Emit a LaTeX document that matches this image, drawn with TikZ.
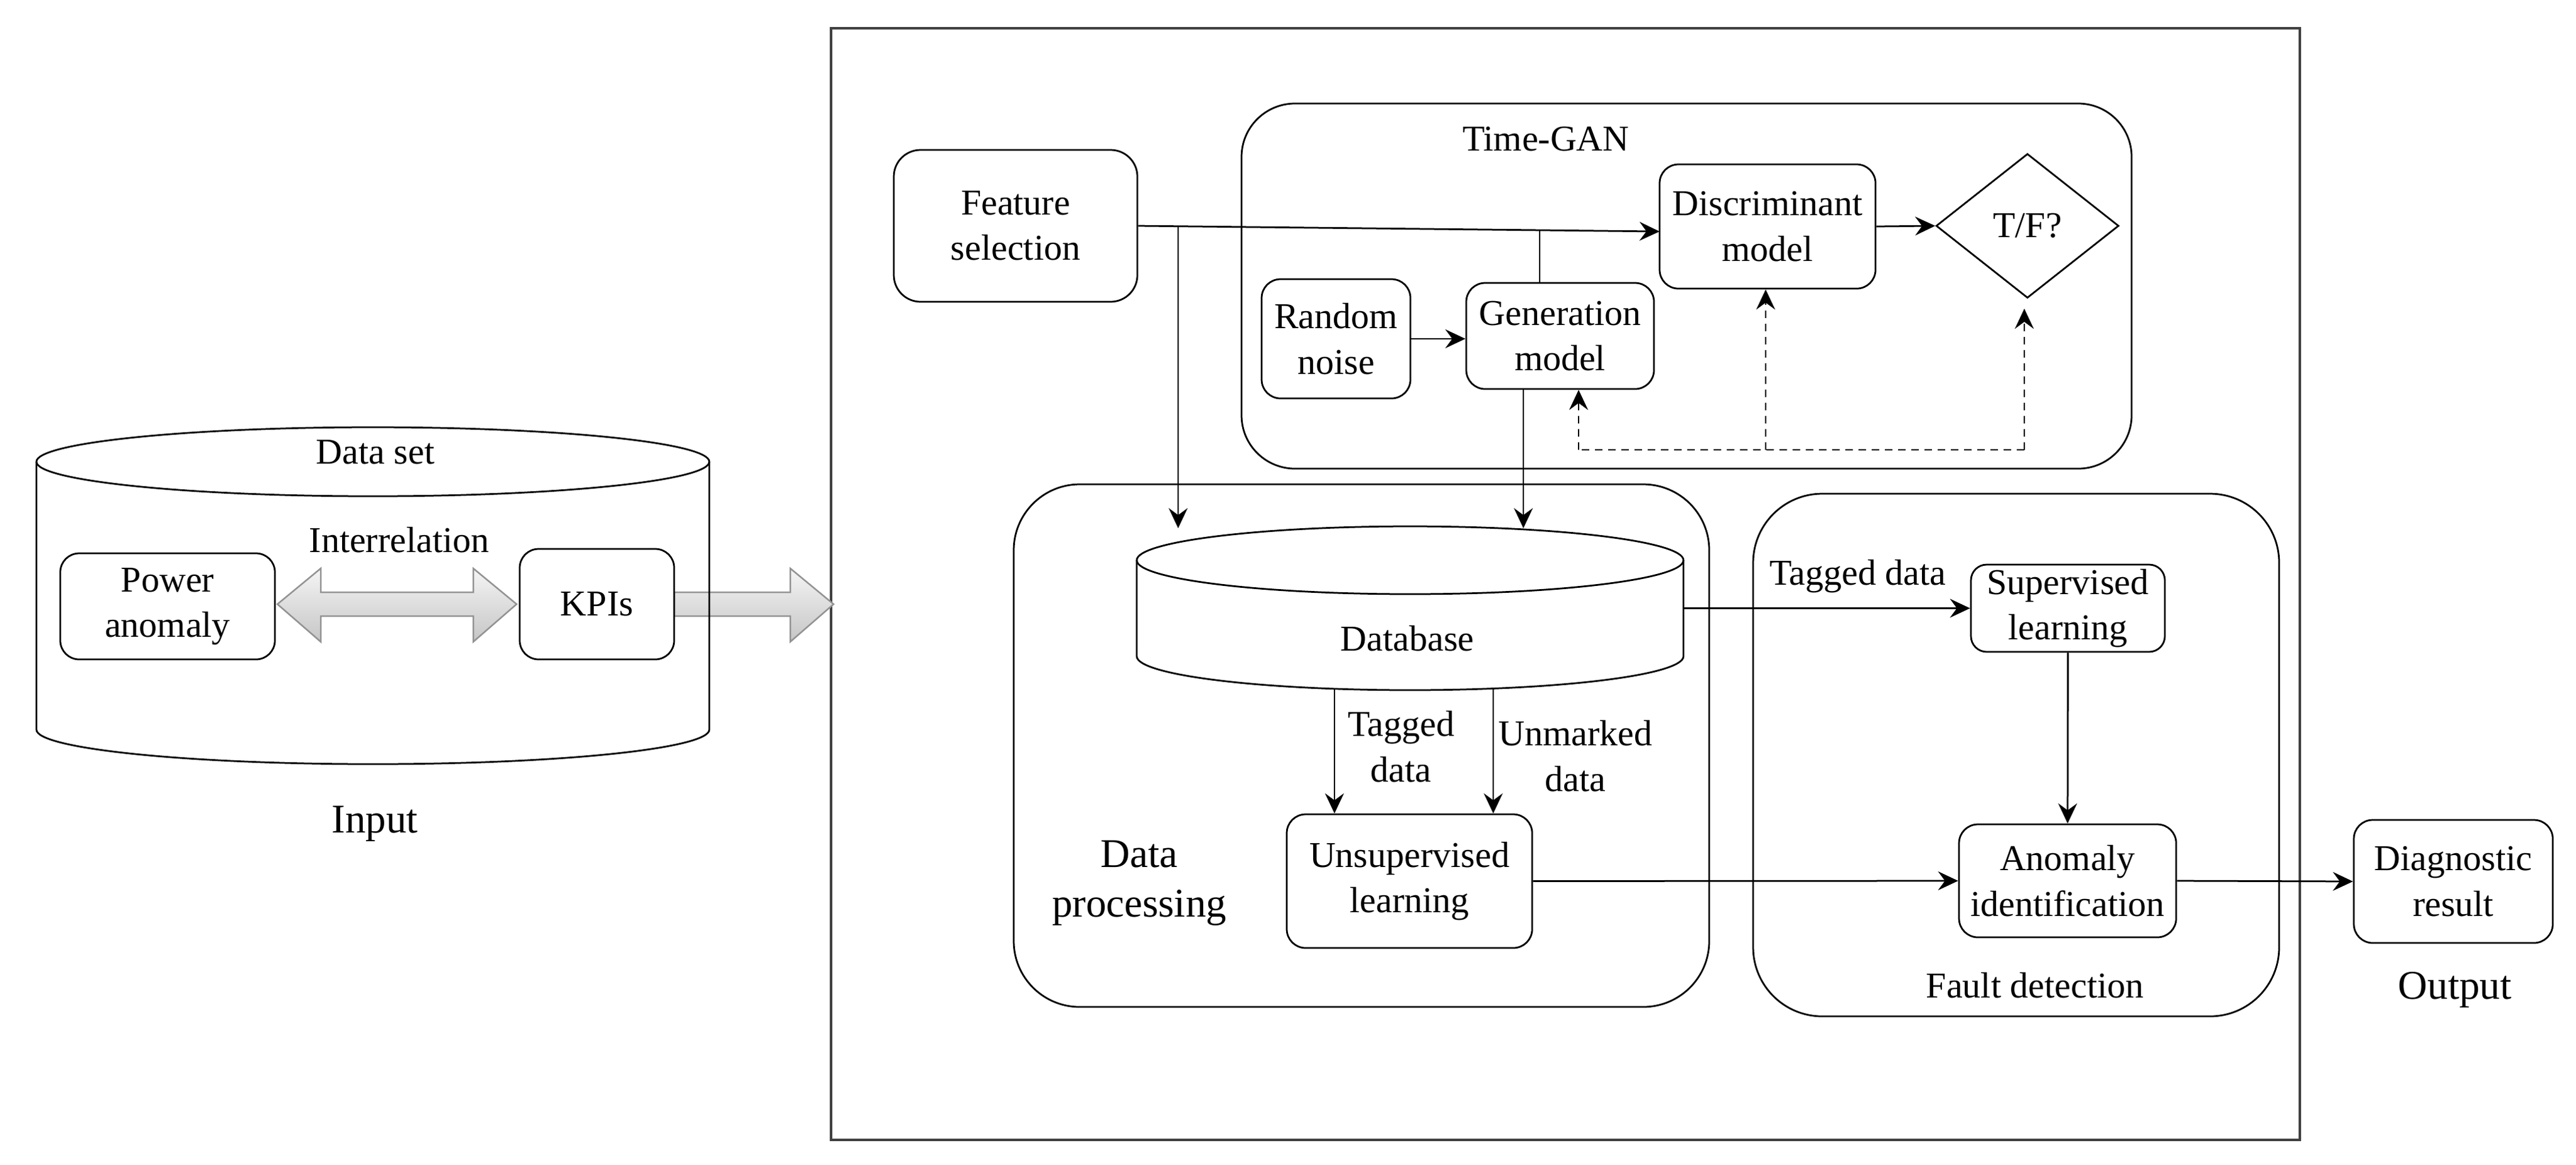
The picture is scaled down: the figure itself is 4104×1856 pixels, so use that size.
\documentclass[tikz,border=0pt]{standalone}
\usepackage{fontspec}
\setmainfont{Liberation Serif}
\usetikzlibrary{shapes.geometric,arrows.meta,calc}
\tikzset{
 box/.style={draw, fill=white, rounded corners=6pt, align=center, inner sep=0pt, font=\fontsize{11.6}{14.5}\selectfont},
 lbl/.style={inner sep=0pt, align=center, font=\fontsize{11.6}{14.5}\selectfont},
 biglbl/.style={inner sep=0pt, align=center, font=\fontsize{13}{15.8}\selectfont},
 arr/.style={-{Stealth[length=6.4pt,width=6pt,inset=2.2pt]}},
 dsh/.style={dash pattern=on 2.4pt off 1.8pt},
 fat/.style={draw=gray!85, top color=gray!8, bottom color=gray!45, line width=0.5pt},
 frame/.style={draw=black!75, line width=0.8pt},
}
\begin{document}
\begin{tikzpicture}[x=0.2pt, y=-0.2pt, line width=0.55pt]
\useasboundingbox (0,0) rectangle (4104,1856);
% outer frame and containers
\draw[frame] (1324,45) rectangle (3664,1817);
\draw[rounded corners=17pt] (1978,165) rectangle (3396,747);
\draw[rounded corners=21pt] (1615,772) rectangle (2723,1605);
\draw[rounded corners=22pt] (2793,787) rectangle (3631,1620);
% fat arrows
\path[fat] (442,963) -- (511,906) -- (511,944) -- (754,944) -- (754,906) -- (823,963) -- (754,1023) -- (754,982) -- (511,982) -- (511,1023) -- cycle;
\path[fat] (1074,944) -- (1259,944) -- (1259,906) -- (1328,963) -- (1259,1023) -- (1259,982) -- (1074,982) -- cycle;
% data set cylinder
\draw (58,736) -- (58,1163) arc[start angle=180,end angle=360,x radius=107.2pt,y radius=11pt] -- (1130,736);
\draw (594,736) ellipse[x radius=107.2pt, y radius=11pt];
% database cylinder
\draw[fill=white] (1811,893) -- (1811,1046) arc[start angle=180,end angle=360,x radius=87.1pt,y radius=10.8pt] -- (2682,893);
\draw (2246.5,893) ellipse[x radius=87.1pt, y radius=10.8pt];
% labels
\node[lbl, anchor=base] (dslbl) at (598,739) {Data set};
\node[lbl, anchor=base] (irlbl) at (636,880) {Interrelation};
\node[biglbl, anchor=base] (inlbl) at (597,1327) {Input};
\node[lbl, anchor=base] (tglbl) at (2463,240) {Time-GAN};
\node[lbl, anchor=base] (dblbl) at (2242,1037) {Database};
\node[lbl] (tag1) at (2232,1190) {Tagged\\data};
\node[lbl] (unm) at (2510,1205) {Unmarked\\data};
\node[biglbl] (dplbl) at (1815,1408) {Data\\processing};
\node[lbl, anchor=base] (tag2) at (2960,932) {Tagged data};
\node[lbl, anchor=base] (fdlbl) at (3242,1590) {Fault detection};
\node[biglbl, anchor=base] (outlbl) at (3911,1592) {Output};
% boxes
\node[box, minimum width=68.4pt, minimum height=33.8pt] (pa) at (267,966.5) {Power\\anomaly};
\node[box, minimum width=49.2pt, minimum height=35.2pt] (kpi) at (951,963) {KPIs};
\node[box, minimum width=77.6pt, minimum height=48.4pt, rounded corners=8.5pt] (fs) at (1618,360) {Feature\\selection};
\node[box, minimum width=47.4pt, minimum height=38pt] (rn) at (2128.5,540) {Random\\noise};
\node[box, minimum width=59.8pt, minimum height=33.8pt] (gm) at (2485.5,535.5) {Generation\\model};
\node[box, minimum width=68.8pt, minimum height=39.6pt] (dm) at (2816,361) {Discriminant\\model};
\node[draw, fill=white, diamond, aspect=1.27, minimum width=58.2pt, minimum height=46pt, inner sep=0pt, font=\fontsize{11.6}{14.5}\selectfont] (tf) at (3230,360) {T/F?};
\node[box, minimum width=61.8pt, minimum height=27.8pt, rounded corners=5pt] (sl) at (3294.5,969.5) {Supervised\\learning};
\node[box, minimum width=78.2pt, minimum height=42.6pt] (ul) at (2245.5,1404.5) {Unsupervised\\learning};
\node[box, minimum width=69.2pt, minimum height=36pt] (ai) at (3294,1404) {Anomaly\\identification};
\node[box, minimum width=63.4pt, minimum height=39.2pt] (dr) at (3908.5,1405) {Diagnostic\\result};
% connectors
\coordinate (fsj) at (1877,362);
\coordinate (dbtl) at (1877,842);
\coordinate (dmin) at (2644,369);
\draw[arr] (fs.east) -- (dmin);
\draw[arr] (fsj) -- (dbtl);
\coordinate (gj) at (2453,367);
\draw (gm.north -| gj) -- (gj);
\coordinate (gbx) at (2427,842);
\draw[arr] (gm.south -| gbx) -- (gbx);
\draw[arr] (rn.east) -- (rn.east -| gm.west);
\draw[arr] (dm.east) -- (tf.west);
\coordinate (d1) at (2515,717);
\coordinate (d2) at (2813,717);
\coordinate (d3) at (3225,717);
\coordinate (tfin) at (3225,492);
\draw[dsh] (d3) -- (d1);
\draw[dsh, arr] (d1) -- (gm.south -| d1);
\draw[dsh, arr] (d2) -- (dm.south -| d2);
\draw[dsh, arr] (d3) -- (tfin);
\coordinate (dbr) at (2682,969.5);
\draw[arr] (dbr) -- (sl.west);
\coordinate (dbb1) at (2126,1099);
\draw[arr] (dbb1) -- (dbb1 |- ul.north);
\coordinate (dbb2) at (2379,1098);
\draw[arr] (dbb2) -- (dbb2 |- ul.north);
\draw[arr] (ul.east) -- (ai.west);
\draw[arr] (sl.south) -- (ai.north);
\draw[arr] (ai.east) -- (dr.west);
\end{tikzpicture}
\end{document}
